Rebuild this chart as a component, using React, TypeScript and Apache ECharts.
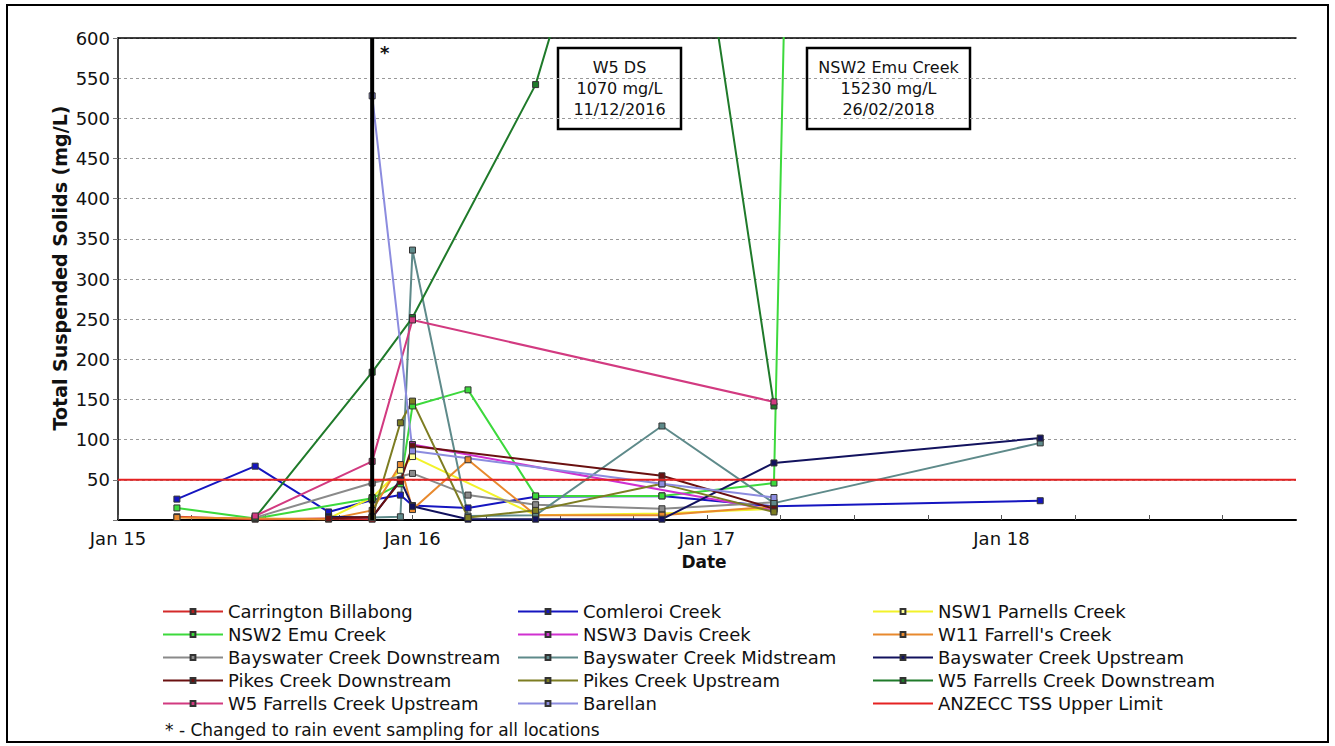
import React, { useEffect, useRef } from 'react';
import * as echarts from 'echarts';

// Sampling rounds (shared by all monitoring locations)
const sampleDates = [
  '2015-03-15', '2015-06-20', '2015-09-19', '2015-11-12', '2015-12-17', '2016-01-01',
  '2016-03-10', '2016-06-02', '2016-11-06', '2017-03-25', '2018-02-18',
];

// Total suspended solids (mg/L) per location, aligned with sampleDates (null = not sampled)
const carringtonBillabong = [4, 1, 2, 1, null, null, null, null, null, null, null];
const comleroiCreek = [26, 67, 10, 25, 31, 18, 15, 29, 30, 17, 24];
const nsw1Parnells = [null, null, 2, 28, 62, 79, null, 6, 8, 14, null];
const nsw2Emu = [15, 2, null, 27, 45, 142, 162, 30, 30, 46, 15230];
const nsw3Davis = [null, null, null, null, null, 94, null, null, null, 12, null];
const w11Farrells = [3, null, 1, 12, 69, 13, 75, 6, 6, 17, null];
const bayswaterDown = [null, 3, null, 46, null, 58, 31, 19, 14, 22, null];
const bayswaterMid = [null, null, null, 3, 4, 336, 5, 6, 117, 21, 96];
const bayswaterUp = [null, null, 4, 3, 50, 17, 1, 1, 1, 71, 102];
const pikesDown = [null, null, 2, 4, 48, 92, null, null, 55, 14, null];
const pikesUp = [null, null, null, 3, 121, 148, 3, 12, 45, 10, null];
const w5Downstream = [null, 3, null, 184, null, 252, null, 542, 1070, 142, null];
const w5Upstream = [null, 5, null, 73, null, 249, null, null, null, 147, null];
const barellan = [null, null, null, 528, null, 86, null, null, 45, 28, null];

const anzeccLimit = 50;
const rainEventDate = '2015-11-12';
const axisStartYear = 2015;
const axisEndYear = 2019;
const yTickStep = 50;
const yMax = 600;

const FONT = '"DejaVu Sans", "Liberation Sans", Arial, sans-serif';

// Decimal year for a yyyy-mm-dd date string
function toYear(d: string): number {
  const [y, m, day] = d.split('-').map(Number);
  const start = Date.UTC(y, 0, 1);
  const end = Date.UTC(y + 1, 0, 1);
  return y + (Date.UTC(y, m - 1, day) - start) / (end - start);
}

type SeriesDef = { name: string; values: (number | null)[]; color: string; fill?: string };

const locations: SeriesDef[] = [
  { name: 'Carrington Billabong', values: carringtonBillabong, color: '#D42A2A', fill: '#B02020' },
  { name: 'Comleroi Creek', values: comleroiCreek, color: '#1515C0' },
  { name: 'NSW1 Parnells Creek', values: nsw1Parnells, color: '#F2F22A', fill: '#FFFF99' },
  { name: 'NSW2 Emu Creek', values: nsw2Emu, color: '#3CD93C' },
  { name: 'NSW3 Davis Creek', values: nsw3Davis, color: '#D030D0' },
  { name: "W11 Farrell's Creek", values: w11Farrells, color: '#E8892E' },
  { name: 'Bayswater Creek Downstream', values: bayswaterDown, color: '#8A8A8A' },
  { name: 'Bayswater Creek Midstream', values: bayswaterMid, color: '#5E8A8A' },
  { name: 'Bayswater Creek Upstream', values: bayswaterUp, color: '#12125E' },
  { name: 'Pikes Creek Downstream', values: pikesDown, color: '#6A1010' },
  { name: 'Pikes Creek Upstream', values: pikesUp, color: '#7D7D22' },
  { name: 'W5 Farrells Creek Downstream', values: w5Downstream, color: '#1F7A2A' },
  { name: 'W5 Farrells Creek Upstream', values: w5Upstream, color: '#D23A80' },
  { name: 'Barellan', values: barellan, color: '#8C8CDF' },
];

const limitName = 'ANZECC TSS Upper Limit';
const limitColor = '#E52222';

const legendColumns = [
  ['Carrington Billabong', 'NSW2 Emu Creek', 'Bayswater Creek Downstream', 'Pikes Creek Downstream', 'W5 Farrells Creek Upstream'],
  ['Comleroi Creek', 'NSW3 Davis Creek', 'Bayswater Creek Midstream', 'Pikes Creek Upstream', 'Barellan'],
  ['NSW1 Parnells Creek', "W11 Farrell's Creek", 'Bayswater Creek Upstream', 'W5 Farrells Creek Downstream', limitName],
];
const legendLefts = [162, 517, 872];

const callouts = [
  { x: 558, lines: ['W5 DS', '1070 mg/L', '11/12/2016'], width: 123 },
  { x: 807, lines: ['NSW2 Emu Creek', '15230 mg/L', '26/02/2018'], width: 163 },
];

export default function App() {
  const ref = useRef<HTMLDivElement>(null);

  useEffect(() => {
    if (!ref.current) return;
    const chart = echarts.init(ref.current, undefined, { renderer: 'svg' });

    const lineSeries: any[] = locations.map((loc) => ({
      name: loc.name,
      type: 'line',
      data: sampleDates
        .map((d, i) => (loc.values[i] == null ? null : [toYear(d), loc.values[i]]))
        .filter((p) => p !== null),
      symbol: 'rect',
      symbolSize: 6,
      showAllSymbol: true,
      lineStyle: { color: loc.color, width: 2 },
      itemStyle: { color: loc.fill || loc.color, borderColor: '#333', borderWidth: 1 },
      emphasis: { disabled: true },
      clip: true,
      z: 2,
    }));

    lineSeries.push({
      name: limitName,
      type: 'line',
      data: [[axisStartYear, anzeccLimit], [axisEndYear, anzeccLimit]],
      symbol: 'none',
      lineStyle: { color: limitColor, width: 2 },
      itemStyle: { color: limitColor },
      emphasis: { disabled: true },
      z: 3,
    });

    // Start of rain-event sampling
    const rainX = toYear(rainEventDate);
    lineSeries.push({
      name: 'rain-event',
      type: 'line',
      data: [[rainX, 0], [rainX, yMax]],
      symbol: 'none',
      lineStyle: { color: '#000', width: 4 },
      emphasis: { disabled: true },
      silent: true,
      z: 5,
    });

    const graphics: any[] = [
      {
        type: 'rect',
        shape: { x: 7, y: 5, width: 1321, height: 737 },
        style: { fill: 'none', stroke: '#000', lineWidth: 2 },
        silent: true,
      },
      {
        type: 'text',
        x: 60,
        y: 268,
        rotation: Math.PI / 2,
        style: {
          text: 'Total Suspended Solids (mg/L)',
          font: `bold 19px ${FONT}`,
          fill: '#111',
          align: 'center',
          verticalAlign: 'middle',
        },
      },
      {
        type: 'text',
        x: 704,
        y: 562,
        style: {
          text: 'Date',
          font: `bold 17px ${FONT}`,
          fill: '#111',
          align: 'center',
          verticalAlign: 'middle',
        },
      },
      {
        type: 'text',
        x: 380,
        y: 52,
        style: { text: '*', font: `bold 18px ${FONT}`, fill: '#111', align: 'left', verticalAlign: 'middle' },
        z: 10,
      },
      {
        type: 'text',
        x: 165,
        y: 730,
        style: {
          text: '* - Changed to rain event sampling for all locations',
          font: `17px ${FONT}`,
          fill: '#111',
          align: 'left',
          verticalAlign: 'middle',
        },
      },
    ];

    callouts.forEach((c) => {
      graphics.push({
        type: 'group',
        z: 20,
        children: [
          {
            type: 'rect',
            shape: { x: c.x, y: 48, width: c.width, height: 81 },
            style: { fill: '#fff', stroke: '#000', lineWidth: 2.5 },
          },
          {
            type: 'text',
            x: c.x + c.width / 2,
            y: 88.5,
            style: {
              text: c.lines.join('\n'),
              font: `16px ${FONT}`,
              lineHeight: 21,
              fill: '#111',
              align: 'center',
              verticalAlign: 'middle',
            },
          },
        ],
      });
    });

    chart.setOption({
      animation: false,
      backgroundColor: '#fff',
      grid: { left: 118, right: 39, top: 38, bottom: 226, containLabel: false },
      xAxis: [
        {
          type: 'value',
          min: axisStartYear,
          max: axisEndYear,
          interval: 0.25,
          axisLine: { show: true, onZero: false, lineStyle: { color: '#000', width: 2 } },
          axisTick: { show: true, inside: true, length: 5, lineStyle: { color: '#555' } },
          axisLabel: {
            fontFamily: FONT,
            fontSize: 18,
            color: '#111',
            margin: 9,
            showMaxLabel: false,
            formatter: (v: number) => {
              const r = Math.round(v);
              if (Math.abs(v - r) > 1e-6 || r >= axisEndYear) return '';
              return 'Jan ' + String(r).slice(2);
            },
          },
          splitLine: { show: false },
        },
        {
          type: 'value',
          position: 'top',
          min: axisStartYear,
          max: axisEndYear,
          axisLine: { show: true, onZero: false, lineStyle: { color: '#000', width: 1.5 } },
          axisTick: { show: false },
          axisLabel: { show: false },
          splitLine: { show: false },
        },
      ],
      yAxis: {
        type: 'value',
        min: 0,
        max: yMax,
        interval: yTickStep,
        axisLine: { show: true, lineStyle: { color: '#000', width: 1.5 } },
        axisTick: { show: true, length: 5, lineStyle: { color: '#777' } },
        axisLabel: {
          fontFamily: FONT,
          fontSize: 18,
          color: '#111',
          margin: 8,
          formatter: (v: number) => (v === 0 ? '' : String(v)),
        },
        splitLine: { show: true, lineStyle: { color: '#999', type: [3, 3], width: 1 } },
      },
      legend: legendColumns.map((names, i) => ({
        orient: 'vertical',
        left: legendLefts[i],
        top: 600,
        padding: 0,
        itemWidth: 60,
        itemHeight: 6,
        itemGap: 0,
        selectedMode: false,
        textStyle: { fontFamily: FONT, fontSize: 18, color: '#111', lineHeight: 23 },
        data: names.map((n) =>
          n === limitName ? { name: n, icon: 'path://M0,0 L60,0 L60,2 L0,2 Z' } : { name: n }
        ),
      })),
      graphic: graphics,
      series: lineSeries,
    });

    return () => chart.dispose();
  }, []);

  return (
    <div
      ref={ref}
      style={{ position: 'fixed', left: 0, top: 0, width: 1335, height: 746, background: '#fff' }}
    />
  );
}
